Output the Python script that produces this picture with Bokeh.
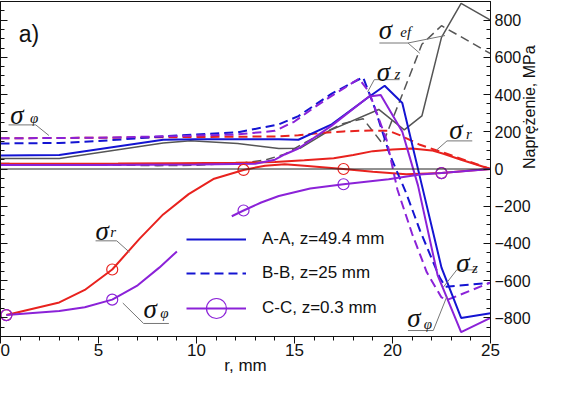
import math
from bokeh.plotting import figure
from bokeh.models import (Range1d, LinearAxis, SingleIntervalTicker, Span, Label,
                          Legend, LegendItem, CustomJSTickFormatter)
from bokeh.embed import file_html
from bokeh.resources import INLINE

RED = "#E8221E"
PURPLE = "#8B22D8"
BLUE = "#1414D2"
GREY = "#555555"
NAN = float("nan")

# ---------------- data: radius r [mm] and stress [MPa] ----------------
# A-A, z=49.4 mm (solid lines)
aa_sr_r = [0, 3, 6, 9, 12, 14, 15.5, 17, 18, 19, 20, 21, 22, 22.6, 23.5, 25]
aa_sr_v = [28, 28, 29, 31, 33, 38, 47, 58, 75, 96, 105, 110, 100, 82, 50, 0]

aa_sp_r = [0, 5, 10, 13, 14, 14.5, 15.2, 16.9, 18.8, 19.4, 20.5, 21.3, 22.3, 23.5, 25]
aa_sp_v = [22, 22, 24, 28, 50, 78, 110, 233, 390, 398, 200, -88, -570, -877, -800]

aa_sz_r = [0, 3, 8.3, 10, 14.2, 15.2, 16.9, 18.7, 19.6, 20.5, 21.5, 22.5, 23.5, 25]
aa_sz_v = [73, 75, 157, 160, 160, 157, 240, 380, 447, 355, -88, -530, -800, -775]

aa_se_r = [0, 3, 8.3, 9.7, 12.1, 14.2, 15.3, 16.75, 19.3, 20.6, 21.5, 22.5, 23.5, 25]
aa_se_v = [57, 57, 140, 152, 137, 110, 112, 205, 320, 210, 285, 707, 890, 800]

# B-B, z=25 mm (dashed lines)
bb_sr_r = [0, 5, 10, 14, 15.2, 16.5, 17.5, 18.9, 19.8, 20.4, 21.4, 22.6, 25]
bb_sr_v = [165, 168, 172, 175, 181, 195, 202, 207, 205, 181, 130, 88, 0]

bb_sp_r = [0, 5, 9, 12, 14, 15, 16, 17, 18.3, 18.8, 19.7, 20.25, 21.0, 21.75, 22.5, 22.8, 25]
bb_sp_v = [165, 168, 177, 185, 205, 255, 330, 400, 485, 414, 156, -110, -348, -555, -690, -703, -610]

bb_sz_r = [0, 3, 5, 7, 9, 12.1, 14.2, 15.2, 16.9, 18.5, 19.1, 19.85, 20.7, 21.4, 22.4, 22.7, 25]
bb_sz_v = [137, 140, 150, 165, 180, 197, 240, 284, 405, 493, 327, 80, -130, -330, -582, -633, -612]

bb_se_r = [0, 5, 8, 10, 12.5, 13.5, 14.5, 15.5, 16.5, 17.5, 18.5, 19.5, 20.5, 21.5, 22.5, 25]
bb_se_v = [30, 22, 18, 20, 35, 48, 80, 140, 195, 245, 270, 135, 400, 670, 770, 620]

# C-C, z=0.3 mm (solid lines with circles); gap = part hidden behind the legend
cc_sr_r = [0.3, 3, 4.3, 5.7, 7.1, 8.3, 9.6, 10.9, 12.4, 13.5, 14.5, 15.5, 17.5, 19, 20.7, 22.5, 24, 25]
cc_sr_v = [-785, -717, -650, -540, -374, -244, -135, -52, -5, 18, 25, 18, 0, -15, -28, -22, -8, 0]

cc_sp_r = [0.3, 3, 4.3, 5.7, 7.0, 8.1, 9.0, NAN, 11.8, 12.4, 13.3, 14.2, 15.8, 17.5, 19.8, 21.4, 22.5, 25]
cc_sp_v = [-785, -763, -743, -702, -625, -530, -443, NAN, -254, -223, -180, -145, -105, -82, -55, -30, -22, 0]

cc_mark_r = [0.3, 5.7, 12.4, 17.5, 22.5]
cc_sr_mark = [-785, -540, -5, 0, -22]
cc_sp_mark = [-785, -702, -223, -82, -22]

legend_labels = ["A-A, z=49.4 mm", "B-B, z=25 mm", "C-C, z=0.3 mm"]

# annotations: (symbol, subscript, x, y, sub_x, sub_y)
anno = [
    ("σ", "φ", 0.5, 291, 1.5, 275),
    ("σ", "ef", 19.3, 748, 20.4, 738),
    ("σ", "z", 19.2, 519, 20.1, 509),
    ("σ", "r", 22.9, 208, 23.75, 190),
    ("σ", "r", 4.85, -332, 5.6, -340),
    ("σ", "φ", 7.3, -753, 8.15, -774),
    ("σ", "z", 23.25, -504, 24.05, -530),
    ("σ", "φ", 20.75, -800, 21.6, -831),
]
leader_xs = [[0.41, 1.8, 2.47], [19.33, 20.79, 21.39], [20.79, 22.68], [20.36, 19.07, 18.73],
             [24.07, 22.78, 22.25], [4.85, 5.93, 6.58], [8.59, 7.3, 6.24],
             [24.31, 23.28, 22.6], [20.79, 22.08, 22.77]]
leader_ys = [[237, 237, 180], [677, 677, 622], [677, 717], [480, 480, 414],
             [151, 151, 102], [-386, -386, -447], [-830, -830, -720],
             [-542, -542, -634], [-868, -868, -686]]

# ---------------- figure ----------------
p = figure(width=549, height=377, output_backend="svg", toolbar_location=None,
           x_range=Range1d(0, 25), y_range=Range1d(-900, 900),
           y_axis_location="right", min_border_left=0, min_border_right=59,
           min_border_top=1, min_border_bottom=0)
p.grid.visible = False
p.outline_line_color = "#111111"
p.outline_line_width = 1
p.background_fill_color = "white"
p.border_fill_color = "white"

FONT = "Liberation Sans"
xa = p.xaxis[0]
xa.ticker = SingleIntervalTicker(interval=5, num_minor_ticks=5)
xa.major_tick_out = 7
xa.major_tick_in = 0
xa.minor_tick_out = 4
xa.minor_tick_in = 0
xa.major_label_text_font = FONT
xa.major_label_text_font_size = "17px"
xa.major_label_text_color = "#111111"
xa.major_label_standoff = 0
xa.axis_label = "r, mm"
xa.axis_label_text_font = FONT
xa.axis_label_text_font_size = "17px"
xa.axis_label_text_font_style = "normal"
xa.axis_label_text_color = "#111111"
xa.axis_label_standoff = -3
xa.axis_line_color = "#111111"
xa.major_tick_line_color = "#111111"
xa.minor_tick_line_color = "#111111"

ya = p.yaxis[0]
ya.ticker = SingleIntervalTicker(interval=200, num_minor_ticks=4)
ya.major_tick_in = 7
ya.major_tick_out = 0
ya.minor_tick_in = 4
ya.minor_tick_out = 0
ya.major_label_text_font = FONT
ya.major_label_text_font_size = "16px"
ya.major_label_text_color = "#111111"
ya.major_label_standoff = 4
ya.axis_line_color = "#111111"
ya.major_tick_line_color = "#111111"
ya.minor_tick_line_color = "#111111"
ya.axis_label = "Naprężenie, MPa"
ya.axis_label_text_font = FONT
ya.axis_label_text_font_size = "16px"
ya.axis_label_text_font_style = "normal"
ya.axis_label_text_color = "#111111"
ya.axis_label_standoff = -4
if "axis_label_orientation" in ya.properties():
    ya.axis_label_orientation = math.pi / 2

la = LinearAxis(ticker=SingleIntervalTicker(interval=200, num_minor_ticks=4),
                formatter=CustomJSTickFormatter(code="return ''"),
                major_tick_in=7, major_tick_out=0, minor_tick_in=4, minor_tick_out=0,
                major_label_standoff=0, axis_line_color="#111111",
                major_tick_line_color="#111111", minor_tick_line_color="#111111")
p.add_layout(la, "left")

p.add_layout(Span(location=0, dimension="width", line_color="#222222", line_width=1))

# ---------------- series ----------------
W = 2
p.line(bb_se_r, bb_se_v, line_color=GREY, line_width=1.5, line_dash="9 5")
p.line(aa_se_r, aa_se_v, line_color=GREY, line_width=1.5)
p.line(bb_sr_r, bb_sr_v, line_color=RED, line_width=W, line_dash="9 5")
p.line(aa_sr_r, aa_sr_v, line_color=RED, line_width=W)
p.line(cc_sr_r, cc_sr_v, line_color=RED, line_width=W)
bb_z = p.line(bb_sz_r, bb_sz_v, line_color=BLUE, line_width=W, line_dash="9 5")
p.line(bb_sp_r, bb_sp_v, line_color=PURPLE, line_width=W, line_dash="9 5")
aa_z = p.line(aa_sz_r, aa_sz_v, line_color=BLUE, line_width=W)
p.line(aa_sp_r, aa_sp_v, line_color=PURPLE, line_width=W)
cc_p = p.line(cc_sp_r, cc_sp_v, line_color=PURPLE, line_width=W)
p.scatter(cc_mark_r, cc_sr_mark, marker="circle", size=11, fill_alpha=0,
          line_color=RED, line_width=1.2)
cc_m = p.scatter(cc_mark_r, cc_sp_mark, marker="circle", size=11, fill_alpha=0,
                 line_color=PURPLE, line_width=1.2)

# leader lines
p.multi_line(leader_xs, leader_ys, line_color="#777777", line_width=1)

# greek labels
for sym, sub, x, y, sx, sy in anno:
    p.add_layout(Label(x=x, y=y, text=sym, text_font="Liberation Serif",
                       text_font_style="italic", text_font_size="27px",
                       text_color="#111111", text_baseline="alphabetic", text_align="left"))
    p.add_layout(Label(x=sx, y=sy, text=sub, text_font="Liberation Serif",
                       text_font_style="italic", text_font_size="15px",
                       text_color="#111111", text_baseline="alphabetic", text_align="left"))

p.add_layout(Label(x=0.93, y=727, text="a)", text_font=FONT, text_font_size="23px",
                   text_color="#111111", text_baseline="alphabetic"))

common = dict(glyph_width=60, label_height=20, margin=0, label_standoff=16,
              label_text_font=FONT, label_text_font_size="17px",
              label_text_color="#111111", background_fill_color="white",
              background_fill_alpha=0, border_line_alpha=0)
legend1 = Legend(items=[LegendItem(label=legend_labels[0], renderers=[aa_z]),
                        LegendItem(label=legend_labels[1], renderers=[bb_z])],
                 location=(182, 49), glyph_height=20, spacing=14, padding=4, **common)
legend2 = Legend(items=[LegendItem(label=legend_labels[2], renderers=[cc_p, cc_m])],
                 location=(186, 3), glyph_height=50, spacing=0, padding=0, **common)
p.add_layout(legend1)
p.add_layout(legend2)

open("out.html", "w").write(file_html(p, INLINE))
